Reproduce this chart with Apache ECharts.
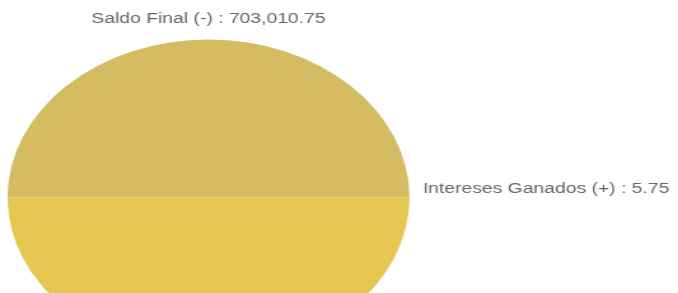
<!DOCTYPE html>
<html>
<head>
<meta charset="utf-8">
<script src="https://cdn.jsdelivr.net/npm/echarts@6/dist/echarts.min.js"></script>
<style>
  html, body { margin: 0; padding: 0; background: #fff; overflow: hidden; }
  #wrap { position: relative; width: 678px; height: 293px; overflow: hidden; }
  #chart { position: absolute; left: 0; top: 0; height: 293px; transform-origin: 0 0; }
</style>
</head>
<body>
<div id="wrap"><div id="chart"></div></div>
<script>
  // data
  const categories = ['Saldo Final (-)', 'Intereses Ganados (+)', 'Saldo Inicial (+)'];
  const values = [703010.75, 5.75, 703005.00];
  const colors = ['#d5bb62', '#c9aa4c', '#e5c752'];

  // the reference is a round pie stretched sideways
  const stretch = 201 / 158;
  const baseWidth = 678 / stretch;
  const el = document.getElementById('chart');
  el.style.width = baseWidth + 'px';
  el.style.transform = 'scaleX(' + stretch + ')';

  const fmt = v => v.toLocaleString('en-US', {minimumFractionDigits: 2, maximumFractionDigits: 2});

  const mychart = echarts.init(el, null, {renderer: 'canvas'});

  // put each label just outside the slice, centred on top, left-aligned on the side
  function placeLabel(p) {
    const lay = mychart.getModel().getSeriesByIndex(0).getData().getItemLayout(p.dataIndex);
    const a = (lay.startAngle + lay.endAngle) / 2;
    const dx = Math.cos(a), dy = Math.sin(a);
    const gap = Math.abs(dx) < 0.3 ? 13 : 10.5;
    return {
      x: lay.cx + dx * (lay.r + gap),
      y: lay.cy + dy * (lay.r + gap) - (Math.abs(dy) < 0.3 ? 1 : 0),
      align: Math.abs(dx) < 0.3 ? 'center' : (dx > 0 ? 'left' : 'right'),
      verticalAlign: dy > 0.3 ? 'top' : 'bottom'
    };
  }

  let options = {
    animation: false,
    series: [{
      type: 'pie',
      center: [208.5 / stretch, 197.5],
      radius: 158,
      startAngle: 180,
      clockwise: true,
      avoidLabelOverlap: false,
      minAngle: 0,
      padAngle: 0,
      silent: true,
      itemStyle: {borderWidth: 0, borderRadius: 0},
      emphasis: {disabled: true},
      label: {
        show: true,
        position: 'outside',
        color: '#666',
        fontSize: 15.2,
        fontFamily: 'Liberation Sans, Arial, sans-serif',
        formatter: p => p.name + ' : ' + fmt(p.value)
      },
      labelLine: {show: false},
      labelLayout: placeLabel,
      data: categories.map((c, i) => ({name: c, value: values[i], itemStyle: {color: colors[i]}}))
    }]
  };

  mychart.setOption(options);
</script>
</body>
</html>
